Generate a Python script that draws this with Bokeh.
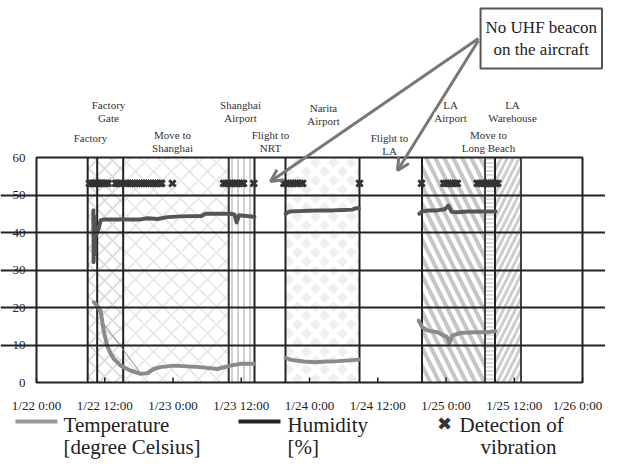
from bokeh.plotting import figure
from bokeh.models import Label, Arrow, OpenHead, FixedTicker, Grid, Range1d
from bokeh.embed import file_html
from bokeh.resources import INLINE

# ---------------- data (x = hours after 1/22 0:00) ----------------
x_tick_hours = [0, 12, 24, 36, 48, 60, 72, 84, 96]
x_tick_labels = ["1/22 0:00", "1/22 12:00", "1/23 0:00", "1/23 12:00", "1/24 0:00",
                 "1/24 12:00", "1/25 0:00", "1/25 12:00", "1/26 0:00"]
y_ticks = [0, 10, 20, 30, 40, 50, 60]

phase_names = ["Factory", "Factory\nGate", "Move to\nShanghai", "Shanghai\nAirport", "Flight to\nNRT",
               "Narita\nAirport", "Flight to\nLA", "LA\nAirport", "Move to\nLong Beach", "LA\nWarehouse"]
phase_start = [9.0, 10.67, 15.24, 33.8, 38.33, 43.78, 56.79, 67.78, 78.86, 80.62]
phase_end = [10.67, 15.24, 33.8, 38.33, 43.78, 56.79, 67.78, 78.86, 80.62, 85.19]

temp1_h = [10.1, 10.7, 11.3, 11.8, 12.4, 13.0, 13.6, 14.8, 16.5, 18.3, 19.5, 20.6, 21.8,
           24.1, 26.5, 28.8, 31.8, 34.1, 35.9, 38.3]
temp1_v = [21.4, 20.5, 18.8, 13.9, 9.9, 7.8, 6.3, 4.5, 3.2, 2.3, 2.5, 3.6, 4.1,
           4.5, 4.3, 4.1, 3.6, 4.5, 5.0, 5.0]
temp_link_h = [11.8, 18.3]
temp_link_v = [15.7, 2.5]
temp2_h = [43.8, 44.6, 45.5, 47.0, 49.0, 51.0, 53.0, 55.0, 56.7]
temp2_v = [6.6, 6.1, 5.9, 5.6, 5.4, 5.6, 5.7, 5.9, 6.1]
temp3_h = [67.2, 67.8, 68.7, 70.5, 72.2, 72.6, 73.1, 74.5, 76.9, 79.2, 80.7]
temp3_v = [16.5, 14.8, 13.9, 13.4, 12.1, 10.5, 12.5, 13.2, 13.4, 13.4, 13.7]

hum1_h = [10.0, 10.05, 10.1, 10.15, 10.2, 10.3, 10.5, 10.8, 11.3, 12.0, 14.0, 18.3, 19.5,
          21.3, 23.0, 25.3, 29.0, 29.7, 34.1, 34.8, 35.2, 35.6, 38.3]
hum1_v = [45.9, 32.1, 44.5, 34.0, 39.0, 38.5, 39.5, 40.5, 43.3, 43.5, 43.5, 43.5, 43.8,
          43.6, 44.1, 44.3, 44.4, 45.0, 45.0, 44.8, 42.7, 44.6, 44.2]
hum2_h = [43.8, 44.5, 46.0, 48.0, 50.0, 52.0, 54.0, 55.5, 56.2, 56.7]
hum2_v = [45.0, 45.6, 45.7, 45.8, 45.9, 45.9, 46.0, 46.1, 46.5, 46.4]
hum3_h = [67.3, 67.8, 69.0, 70.5, 71.8, 72.4, 73.0, 74.0, 75.8, 78.0, 80.7]
hum3_v = [45.0, 45.6, 45.9, 45.9, 46.2, 47.2, 45.5, 45.4, 45.6, 45.6, 45.6]

vibration_h = [9.3, 9.6, 9.9, 10.2, 10.5, 10.8, 11.1, 11.4, 11.7, 12.0, 12.3, 12.6,
               13.9, 14.2, 14.5, 14.8,
               15.7, 16.1, 16.5, 16.9, 17.3, 17.7, 18.1, 18.5, 18.9, 19.3, 19.7, 20.1,
               20.5, 20.9, 21.3, 21.7, 22.0,
               23.9,
               32.9, 33.3, 33.7, 34.1, 34.5, 34.9, 35.3, 35.7, 36.1, 36.4,
               38.2,
               43.5, 43.9, 44.3, 44.7, 45.1, 45.5, 45.9, 46.4, 46.8,
               56.8,
               67.7,
               71.6, 72.0, 72.4, 72.8, 73.2, 73.6, 74.0,
               77.5, 77.9, 78.3, 78.7, 79.1, 79.5, 79.9, 80.3, 80.7, 81.1]
vibration_level = 53.1

note_text = "No UHF beacon\non the aircraft"

# ---------------- layout / styles ----------------
SERIF = "Liberation Serif"
INK = "#222222"
W, H = 605, 459
PX_PER_H = 5.6875          # pixels per hour
PX_PER_V = 3.75            # pixels per unit on the value axis
LEFT, BOTTOM = 36, 77      # position of the chart area inside the canvas

phase_style = [
    dict(fill_color=None, hatch_pattern="x", hatch_color="#d4d4d4", hatch_scale=16, hatch_weight=1.5),
    dict(fill_color=None, hatch_pattern="x", hatch_color="#d4d4d4", hatch_scale=16, hatch_weight=1.5),
    dict(fill_color=None, hatch_pattern="x", hatch_color="#e4e4e4", hatch_scale=18, hatch_weight=1.5),
    dict(fill_color=None, hatch_pattern="|", hatch_color="#d0d0d0", hatch_scale=6, hatch_weight=2),
    None,
    dict(fill_color="#efefef", hatch_pattern="x", hatch_color="white", hatch_scale=18, hatch_weight=5),
    None,
    dict(fill_color=None, hatch_pattern="\\", hatch_color="#c6c6c6", hatch_scale=18, hatch_weight=4),
    dict(fill_color=None, hatch_pattern="-", hatch_color="#d4d4d4", hatch_scale=4, hatch_weight=1.5),
    dict(fill_color=None, hatch_pattern="/", hatch_color="#cccccc", hatch_scale=12, hatch_weight=3),
]
boundary_color = ["#222222", "#222222", "#222222", "#333333", "#222222", "#222222",
                  "#222222", "#222222", "#444444", "#222222", "#444444"]
label_pos = [(9.49, 65.07), (12.66, 73.87), (23.91, 65.87), (35.87, 73.87), (41.14, 65.87),
             (50.46, 73.07), (62.07, 65.07), (72.79, 73.87), (79.47, 66.13), (83.69, 73.87)]

x0 = -LEFT / PX_PER_H
x1 = (W - LEFT) / PX_PER_H
y0 = -BOTTOM / PX_PER_V
y1 = (H - BOTTOM) / PX_PER_V

p = figure(width=W, height=H, x_range=Range1d(x0, x1), y_range=Range1d(y0, y1),
           x_axis_type=None, y_axis_type=None, min_border=0,
           output_backend="svg", toolbar_location=None, tools="")
p.background_fill_color = "white"
p.border_fill_color = "white"
p.outline_line_color = None

xmin, xmax = x_tick_hours[0], x_tick_hours[-1]
ymin, ymax = y_ticks[0], y_ticks[-1]

# hatched phase regions
for i in range(len(phase_names)):
    st = phase_style[i]
    if st is None:
        continue
    p.quad(left=[phase_start[i]], right=[phase_end[i]], bottom=[ymin], top=[ymax],
           line_color=None, **st)

# horizontal grid
grid = Grid(dimension=1, ticker=FixedTicker(ticks=y_ticks[1:-1]), bounds=(xmin, xmax),
            grid_line_color=INK, grid_line_width=2, level="glyph")
p.add_layout(grid)

# phase boundaries
bounds = phase_start + [phase_end[-1]]
p.segment(x0=bounds, y0=[ymin] * len(bounds), x1=bounds, y1=[ymax] * len(bounds),
          line_color=boundary_color, line_width=2)

# chart outline
p.quad(left=[xmin], right=[xmax], bottom=[ymin], top=[ymax], fill_color=None,
       line_color=INK, line_width=2)

# tick marks at bottom (inward)
tick_len = 5 / PX_PER_V
p.segment(x0=x_tick_hours, y0=[ymin] * len(x_tick_hours), x1=x_tick_hours,
          y1=[ymin + tick_len] * len(x_tick_hours), line_color=INK, line_width=1.5)

# tick labels (the last one nudged so it stays inside the canvas)
max_label_x = x1 - 28 / PX_PER_H
for h, t in zip(x_tick_hours, x_tick_labels):
    p.add_layout(Label(x=min(h, max_label_x), y=ymin - 23 / PX_PER_V, text=t, text_align="center",
                       text_baseline="middle", text_font=SERIF, text_font_size="13px",
                       text_color=INK))
for v in y_ticks:
    p.add_layout(Label(x=xmin - 11 / PX_PER_H, y=v, text=str(v), text_align="right",
                       text_baseline="middle", text_font=SERIF, text_font_size="13px",
                       text_color=INK))

# data lines
TEMP = "#8a8a8a"
HUM = "#555555"
p.line(temp_link_h, temp_link_v, line_color=TEMP, line_width=1)
for hx, vy in [(temp1_h, temp1_v), (temp2_h, temp2_v), (temp3_h, temp3_v)]:
    p.line(hx, vy, line_color=TEMP, line_width=4, line_join="round", line_cap="round")
for hx, vy in [(hum1_h, hum1_v), (hum2_h, hum2_v), (hum3_h, hum3_v)]:
    p.line(hx, vy, line_color=HUM, line_width=4, line_join="round", line_cap="round")

p.scatter(vibration_h, [vibration_level] * len(vibration_h), marker="x", size=9,
          line_color="#333333", line_width=3)

# annotation arrows
ARROW = "#777777"
for xe, ye, ys in [(41.14, 53.6, 91.73), (63.47, 56.53, 91.2)]:
    p.add_layout(Arrow(end=OpenHead(size=12, line_color=ARROW, line_width=3),
                       x_start=77.7, y_start=ys, x_end=xe, y_end=ye,
                       line_color=ARROW, line_width=3))

# phase labels
line_step = 13 / PX_PER_V
for name, (lx, ly) in zip(phase_names, label_pos):
    bg = "white" if name == "LA\nAirport" else None
    for k, part in enumerate(name.split("\n")):
        p.add_layout(Label(x=lx, y=ly - k * line_step, text=part, text_align="center",
                           text_baseline="middle", text_font=SERIF, text_font_size="11px",
                           text_color="#333333", background_fill_color=bg))

# note box
p.add_layout(Label(x=88.75, y=91.73, text=note_text, text_align="center", text_baseline="middle",
                   text_font=SERIF, text_font_size="17px", text_color=INK,
                   border_line_color="#555555", border_line_width=2,
                   background_fill_color="white", padding=(5, 9)))

# legend (manual, below the chart)
p.add_layout(Arrow(end=None, x_start=-3.69, y_start=-10.4, x_end=3.69, y_end=-10.4,
                   line_color="#9a9a9a", line_width=4))
p.add_layout(Arrow(end=None, x_start=35.52, y_start=-10.4, x_end=42.9, y_end=-10.4,
                   line_color=INK, line_width=4))
legend_texts = [("Temperature", 4.75, -11.2, "left"), ("[degree Celsius]", 4.75, -17.07, "left"),
                ("Humidity", 44.13, -11.2, "left"), ("[%]", 44.13, -17.07, "left"),
                ("Detection of", 74.37, -11.2, "left"), ("vibration", 84.75, -17.07, "center")]
for t, lx, ly, al in legend_texts:
    p.add_layout(Label(x=lx, y=ly, text=t, text_align=al, text_baseline="middle",
                       text_font=SERIF, text_font_size="21px", text_color=INK))
p.add_layout(Label(x=71.74, y=-11.0, text="\u2716", text_align="center", text_baseline="middle",
                   text_font="DejaVu Sans", text_font_size="18px", text_color="#333333"))

open("out.html", "w").write(file_html(p, INLINE))
